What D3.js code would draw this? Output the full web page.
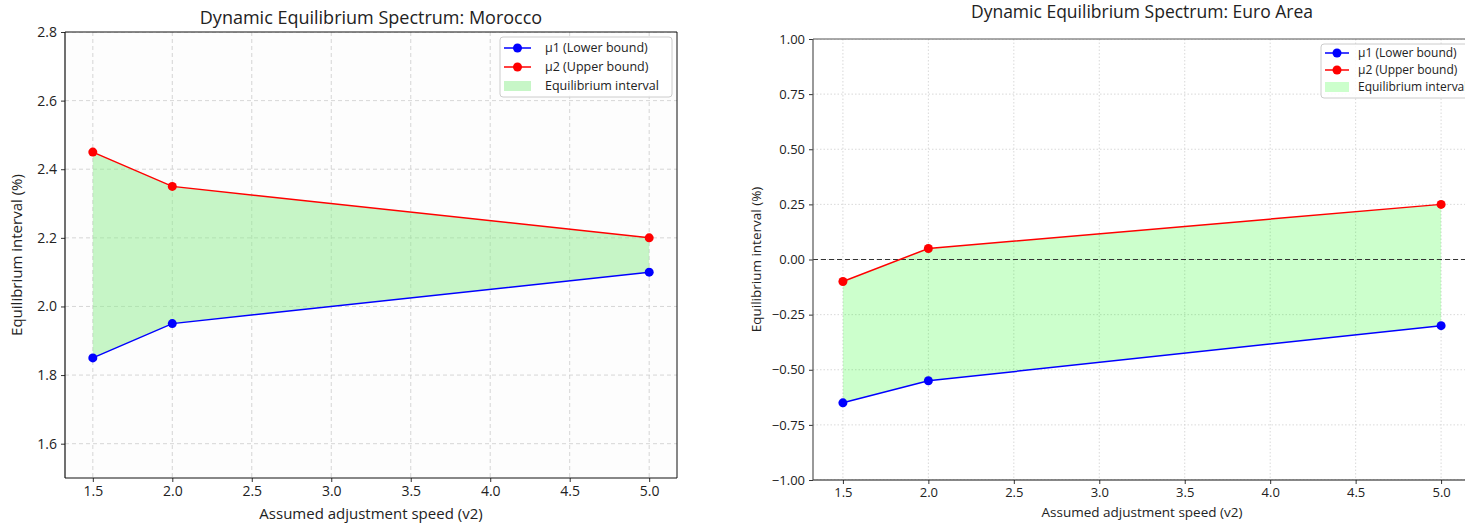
<!DOCTYPE html>
<html>
<head>
<meta charset="utf-8">
<script src="https://cdn.jsdelivr.net/npm/d3@7"></script>
<style>
  body { margin: 0; background: #fff; }
  svg text { font-family: "Open Sans", "DejaVu Sans", sans-serif; fill: #222; }
</style>
</head>
<body>
<svg id="chart" width="1465" height="525"></svg>
<script>
"use strict";

// adjustment speeds (v2)
const speeds = [1.5, 2.0, 5.0];
const xTicks = [1.5, 2.0, 2.5, 3.0, 3.5, 4.0, 4.5, 5.0];

// Morocco
const moroccoLower = [1.85, 1.95, 2.10];
const moroccoUpper = [2.45, 2.35, 2.20];
const moroccoYTicks = [1.6, 1.8, 2.0, 2.2, 2.4, 2.6, 2.8];

// Euro Area
const euroLower = [-0.65, -0.55, -0.30];
const euroUpper = [-0.10, 0.05, 0.25];
const euroYTicks = [-1.0, -0.75, -0.5, -0.25, 0.0, 0.25, 0.5, 0.75, 1.0];

const legendLabels = ["μ1 (Lower bound)", "μ2 (Upper bound)", "Equilibrium interval"];

const svg = d3.select("#chart");

function drawPanel(p) {
    const g = svg.append("g");
    const w = p.right - p.left, h = p.bottom - p.top;

    // matplotlib style 5% margins on x
    const xScale = d3.scaleLinear().domain([1.325, 5.175]).range([p.left, p.right]);
    const yScale = d3.scaleLinear().domain(p.yDomain).range([p.bottom, p.top]);

    const clipId = "clip" + p.id;
    g.append("clipPath").attr("id", clipId)
        .append("rect").attr("x", p.left).attr("y", p.top).attr("width", w).attr("height", h);

    g.append("rect")
        .attr("x", p.left).attr("y", p.top).attr("width", w).attr("height", h)
        .attr("fill", p.bg);

    // grid
    const grid = g.append("g").attr("clip-path", "url(#" + clipId + ")");
    grid.selectAll(".gx").data(xTicks).enter().append("line")
        .attr("x1", d => xScale(d)).attr("x2", d => xScale(d))
        .attr("y1", p.top).attr("y2", p.bottom)
        .attr("stroke", p.gridColor).attr("stroke-width", 0.8).attr("stroke-dasharray", p.gridDash);
    grid.selectAll(".gy").data(p.yTicks).enter().append("line")
        .attr("x1", p.left).attr("x2", p.right)
        .attr("y1", d => yScale(d)).attr("y2", d => yScale(d))
        .attr("stroke", p.gridColor).attr("stroke-width", 0.8).attr("stroke-dasharray", p.gridDash);

    const pts = speeds.map((s, i) => ({ x: s, lo: p.lower[i], hi: p.upper[i] }));

    const area = d3.area().x(d => xScale(d.x)).y0(d => yScale(d.lo)).y1(d => yScale(d.hi));
    const plot = g.append("g").attr("clip-path", "url(#" + clipId + ")");
    plot.append("path").datum(pts).attr("d", area)
        .attr("fill", p.fill).attr("fill-opacity", p.fillOpacity);

    if (p.zeroLine) {
        plot.append("line")
            .attr("x1", p.left).attr("x2", p.right)
            .attr("y1", yScale(0)).attr("y2", yScale(0))
            .attr("stroke", "#333").attr("stroke-width", 1).attr("stroke-dasharray", "5,3");
    }

    const series = [
        { key: "lo", color: "#0000ff" },
        { key: "hi", color: "#ff0000" }
    ];
    series.forEach(s => {
        const line = d3.line().x(d => xScale(d.x)).y(d => yScale(d[s.key]));
        plot.append("path").datum(pts).attr("d", line)
            .attr("fill", "none").attr("stroke", s.color).attr("stroke-width", 1.5);
        plot.selectAll(".dot" + s.key).data(pts).enter().append("circle")
            .attr("cx", d => xScale(d.x)).attr("cy", d => yScale(d[s.key]))
            .attr("r", 4.5).attr("fill", s.color);
    });

    // axes
    const xAxis = g.append("g").attr("transform", "translate(0," + p.bottom + ")")
        .call(d3.axisBottom(xScale).tickValues(xTicks).tickFormat(d3.format(".1f")).tickSize(4).tickPadding(4));
    const yAxis = g.append("g").attr("transform", "translate(" + p.left + ",0)")
        .call(d3.axisLeft(yScale).tickValues(p.yTicks).tickFormat(d3.format(p.yFormat)).tickSize(4).tickPadding(4));
    [xAxis, yAxis].forEach(a => {
        a.select(".domain").remove();
        a.selectAll("text").style("font-size", p.tickFont + "px").attr("fill", "#222");
        a.selectAll("line").attr("stroke", "#333");
    });

    // spines
    g.append("line").attr("x1", p.left).attr("x2", p.right).attr("y1", p.bottom).attr("y2", p.bottom)
        .attr("stroke", "#111").attr("stroke-width", 1);
    g.append("line").attr("x1", p.left).attr("x2", p.left).attr("y1", p.top).attr("y2", p.bottom)
        .attr("stroke", p.sideSpine).attr("stroke-width", 1.2);
    g.append("line").attr("x1", p.left).attr("x2", p.right).attr("y1", p.top).attr("y2", p.top)
        .attr("stroke", p.sideSpine).attr("stroke-width", 1.2);
    if (p.rightSpine) {
        g.append("line").attr("x1", p.right).attr("x2", p.right).attr("y1", p.top).attr("y2", p.bottom)
            .attr("stroke", "#111").attr("stroke-width", 1);
    }

    // labels
    g.append("text").attr("x", p.titleX).attr("y", p.titleY).attr("text-anchor", "middle")
        .style("font-size", p.titleFont + "px").text(p.title);
    g.append("text").attr("x", p.titleX).attr("y", p.xLabelY).attr("text-anchor", "middle")
        .style("font-size", p.labelFont + "px").text("Assumed adjustment speed (v2)");
    g.append("text").attr("transform", "translate(" + p.yLabelX + "," + ((p.top + p.bottom) / 2) + ") rotate(-90)")
        .attr("text-anchor", "middle").style("font-size", p.labelFont + "px").text("Equilibrium interval (%)");

    // legend
    const L = p.legend;
    const lg = g.append("g");
    lg.append("rect").attr("x", L.x).attr("y", L.y).attr("width", L.w).attr("height", L.h)
        .attr("rx", 3).attr("fill", "#fff").attr("fill-opacity", 0.85)
        .attr("stroke", "#ccc").attr("stroke-width", 1);
    const swatch = [
        { type: "line", color: "#0000ff" },
        { type: "line", color: "#ff0000" },
        { type: "patch" }
    ];
    swatch.forEach((s, i) => {
        const cy = L.y + L.first + i * L.step;
        if (s.type === "line") {
            lg.append("line").attr("x1", L.x + 4).attr("x2", L.x + 4 + L.handle).attr("y1", cy).attr("y2", cy)
                .attr("stroke", s.color).attr("stroke-width", 1.5);
            lg.append("circle").attr("cx", L.x + 4 + L.handle / 2).attr("cy", cy).attr("r", 4.5).attr("fill", s.color);
        } else {
            lg.append("rect").attr("x", L.x + 4).attr("y", cy - 5).attr("width", L.handle).attr("height", 10)
                .attr("fill", p.fill).attr("fill-opacity", p.fillOpacity);
        }
        lg.append("text").attr("x", L.x + L.textDx).attr("y", cy).attr("dy", "0.35em")
            .style("font-size", L.font + "px").text(legendLabels[i]);
    });
}

drawPanel({
    id: "m", left: 65, right: 677, top: 32, bottom: 478,
    yDomain: [1.5, 2.8], yTicks: moroccoYTicks, yFormat: ".1f",
    lower: moroccoLower, upper: moroccoUpper,
    bg: "#fdfdfd", gridColor: "#cccccc", gridDash: "4,3",
    fill: "#90ee90", fillOpacity: 0.5, zeroLine: false,
    sideSpine: "#111", rightSpine: true,
    tickFont: 14, labelFont: 15, titleFont: 18,
    title: "Dynamic Equilibrium Spectrum: Morocco", titleX: 371, titleY: 24,
    xLabelY: 519, yLabelX: 22,
    legend: { x: 500, y: 37, w: 172, h: 60, first: 11, step: 19, handle: 27, textDx: 45, font: 12.5 }
});

drawPanel({
    id: "e", left: 813, right: 1471, top: 39, bottom: 480,
    yDomain: [-1, 1], yTicks: euroYTicks, yFormat: ".2f",
    lower: euroLower, upper: euroUpper,
    bg: "#ffffff", gridColor: "#cfcfcf", gridDash: "1.5,2",
    fill: "#00ff00", fillOpacity: 0.2, zeroLine: true,
    sideSpine: "#555", rightSpine: false,
    tickFont: 13, labelFont: 13.5, titleFont: 17.5,
    title: "Dynamic Equilibrium Spectrum: Euro Area", titleX: 1142, titleY: 18,
    xLabelY: 517, yLabelX: 761,
    legend: { x: 1321, y: 44, w: 160, h: 54, first: 9, step: 17, handle: 24, textDx: 37, font: 12 }
});
</script>
</body>
</html>
